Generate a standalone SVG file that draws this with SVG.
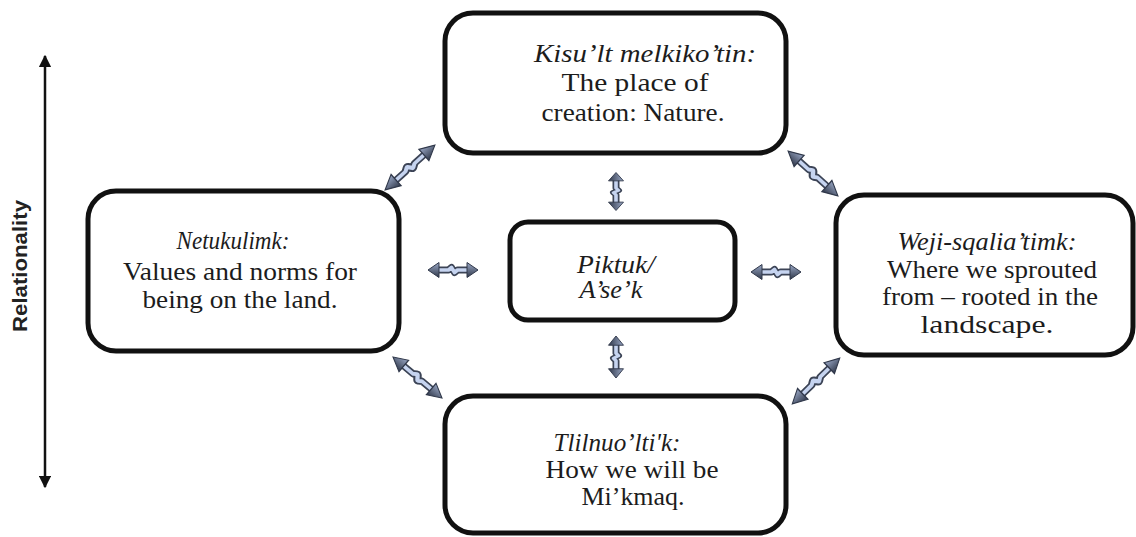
<svg xmlns="http://www.w3.org/2000/svg" xmlns:xlink="http://www.w3.org/1999/xlink" width="1136" height="537" viewBox="0 0 1136 537">
<style>
.box{fill:#fff;stroke:#111;stroke-width:5}
.t{font-family:"Liberation Serif","Times New Roman",serif;font-size:24.5px;fill:#1c1c1c;text-anchor:middle}
.i{font-style:italic}
.rel{font-family:"Liberation Sans",Arial,sans-serif;font-size:21px;font-weight:bold;fill:#222;text-anchor:middle}
</style>
<defs>
<linearGradient id="hg" x1="0" y1="0" x2="0" y2="1">
<stop offset="0" stop-color="#9aa8c6"/>
<stop offset="1" stop-color="#30384a"/>
</linearGradient>
<marker id="ah" viewBox="0 0 10 10" refX="9" refY="5" markerWidth="5" markerHeight="5" orient="auto-start-reverse">
<path d="M0,0 L10,5 L0,10 Z" fill="#111"/>
</marker>
<g id="dbl">
<path d="M-16,0 H-4.5 L-1.5,-2.5 L1.5,2.5 L4.5,0 H16" fill="none" stroke="#3c4456" stroke-width="7" stroke-linejoin="round"/>
<path d="M-16,0 H-4.5 L-1.5,-2.5 L1.5,2.5 L4.5,0 H16" fill="none" stroke="#c6d4f0" stroke-width="3.6" stroke-linejoin="round"/>
<polygon points="-25,0 -14,-7.5 -14,7.5" fill="url(#hg)" stroke="#30384a" stroke-width="1"/>
<polygon points="25,0 14,-7.5 14,7.5" fill="url(#hg)" stroke="#30384a" stroke-width="1"/>
</g>
</defs>
<rect width="1136" height="537" fill="#fff"/>

<g id="relationality">
<line x1="45" y1="56" x2="45" y2="487" stroke="#111" stroke-width="2.5" marker-start="url(#ah)" marker-end="url(#ah)"/>
<text class="rel" transform="translate(27,266) rotate(-90)" textLength="132" lengthAdjust="spacingAndGlyphs">Relationality</text>
</g>

<g id="connectors">
<use href="#dbl" transform="translate(410,167.5) rotate(-42) scale(1.34,1)"/>
<use href="#dbl" transform="translate(813,173.5) rotate(42) scale(1.34,1)"/>
<use href="#dbl" transform="translate(417.5,377.5) rotate(40) scale(1.28,1)"/>
<use href="#dbl" transform="translate(816,381) rotate(-44) scale(1.32,1)"/>
<use href="#dbl" transform="translate(453,270)"/>
<use href="#dbl" transform="translate(776,272)"/>
<use href="#dbl" transform="translate(616,191.5) rotate(90) scale(0.76,1)"/>
<use href="#dbl" transform="translate(616,357) rotate(90) scale(0.84,1)"/>
</g>

<g id="node-top">
<rect class="box" x="445" y="13" width="341" height="140" rx="28"/>
<text class="t i" x="645" y="62" textLength="222" lengthAdjust="spacingAndGlyphs">Kisu’lt melkiko’tin:</text>
<text class="t" x="635" y="91" textLength="147" lengthAdjust="spacingAndGlyphs">The place of</text>
<text class="t" x="633" y="121" textLength="183" lengthAdjust="spacingAndGlyphs">creation: Nature.</text>
</g>

<g id="node-left">
<rect class="box" x="88" y="191" width="311" height="160" rx="28"/>
<text class="t i" x="233" y="249" textLength="113" lengthAdjust="spacingAndGlyphs">Netukulimk:</text>
<text class="t" x="240" y="280" textLength="234" lengthAdjust="spacingAndGlyphs">Values and norms for</text>
<text class="t" x="240" y="308" textLength="195" lengthAdjust="spacingAndGlyphs">being on the land.</text>
</g>

<g id="node-center">
<rect class="box" x="510" y="222" width="225" height="98" rx="18"/>
<text class="t i" x="616" y="273" textLength="78" lengthAdjust="spacingAndGlyphs">Piktuk/</text>
<text class="t i" x="611" y="298" textLength="63" lengthAdjust="spacingAndGlyphs">A’se’k</text>
</g>

<g id="node-right">
<rect class="box" x="836" y="195" width="297" height="160" rx="28"/>
<text class="t i" x="987" y="250" textLength="179" lengthAdjust="spacingAndGlyphs">Weji-sqalia’timk:</text>
<text class="t" x="992" y="278" textLength="210" lengthAdjust="spacingAndGlyphs">Where we sprouted</text>
<text class="t" x="990" y="305" textLength="216" lengthAdjust="spacingAndGlyphs">from – rooted in the</text>
<text class="t" x="987" y="333" textLength="133" lengthAdjust="spacingAndGlyphs">landscape.</text>
</g>

<g id="node-bottom">
<rect class="box" x="445" y="396" width="341" height="137" rx="28"/>
<text class="t i" x="617" y="451" textLength="127" lengthAdjust="spacingAndGlyphs">Tlilnuo’lti'k:</text>
<text class="t" x="632" y="478" textLength="173" lengthAdjust="spacingAndGlyphs">How we will be</text>
<text class="t" x="633" y="505" textLength="103" lengthAdjust="spacingAndGlyphs">Mi’kmaq.</text>
</g>
</svg>
